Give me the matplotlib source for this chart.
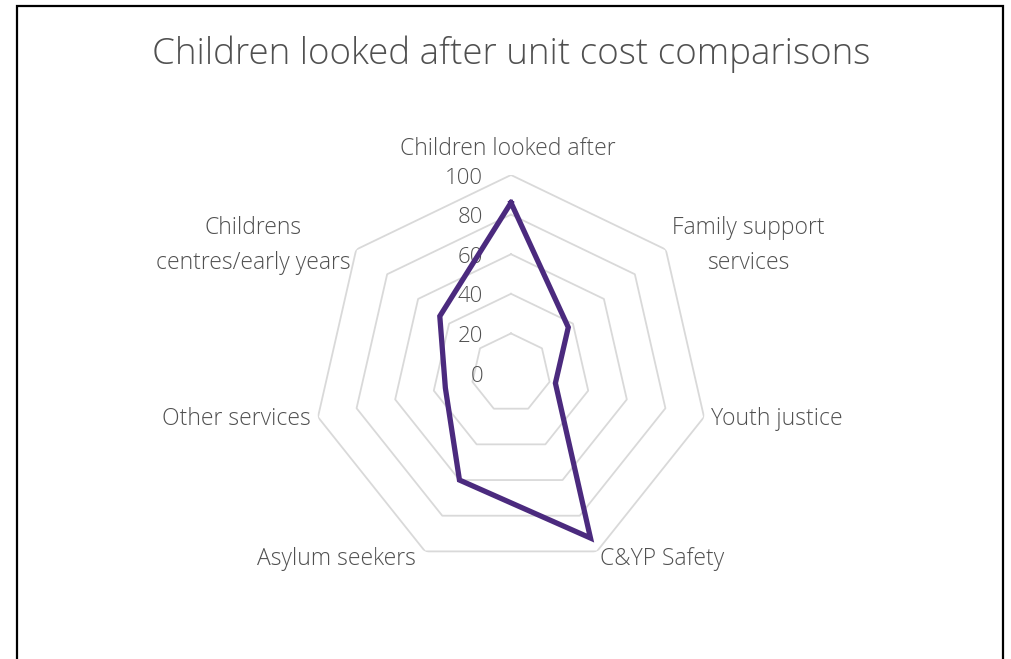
import numpy as np
import matplotlib.pyplot as plt
from matplotlib.patches import Rectangle

plt.rcParams['font.family'] = ['Open Sans', 'DejaVu Sans']
plt.rcParams['font.weight'] = 'light'

# unit cost index for each service area
categories = ['Children looked after', 'Family support\nservices', 'Youth justice',
              'C&YP Safety', 'Asylum seekers', 'Other services',
              'Childrens\ncentres/early years']
values = [86, 37, 23, 92.5, 60, 34, 46]
rings = [20, 40, 60, 80, 100]
tick_labels = ['0', '20', '40', '60', '80', '100']

text_grey = '#505050'
grid_grey = '#D9D9D9'
purple = '#4B2A7E'

W, H = 1011, 659
fig = plt.figure(figsize=(W / 100, H / 100), dpi=100)

# outer frame, runs off the bottom edge
fig.patches.append(Rectangle((17 / W, -0.05), (1003 - 17) / W, 1.05 - 6 / H,
                             transform=fig.transFigure, fill=False,
                             edgecolor='black', linewidth=1.6))

fig.text(511 / W, 1 - 54 / H, 'Children looked after unit cost comparisons',
         ha='center', va='center', fontsize=26.5, color=text_grey)

cx, cy, R = 511, 373, 198
ax = fig.add_axes([(cx - R) / W, (H - cy - R) / H, 2 * R / W, 2 * R / H],
                  projection='polar')
ax.set_theta_offset(np.pi / 2)
ax.set_theta_direction(-1)
ax.set_ylim(0, 100)
ax.grid(False)
ax.spines['polar'].set_visible(False)
ax.set_xticks([])
ax.set_yticks([])
ax.patch.set_alpha(0)

n = len(categories)
theta = np.arange(n) * 2 * np.pi / n
theta_c = np.append(theta, theta[0])

# heptagon grid
for r in rings:
    ax.plot(theta_c, [r] * (n + 1), color=grid_grey, lw=1.3, zorder=1)

vals_c = np.append(values, values[0])
ax.plot(theta_c, vals_c, color=purple, lw=3.8, solid_joinstyle='miter', zorder=3)

# radial tick labels
for v, lab in zip([0] + rings, tick_labels):
    ax.annotate(lab, xy=(0, v), xytext=(-28, -3), textcoords='offset pixels',
                ha='right', va='center', fontsize=16, color=text_grey,
                annotation_clip=False, zorder=2)

# category labels, nudged off the outer ring
offsets = [(-3, 26, 'center'), (6, 4, 'left'), (7, -2, 'left'), (3, -8, 'left'),
           (-9, -8, 'right'), (-7, -2, 'right'), (-6, 4, 'right')]
for t, lab, (dx, dy, ha) in zip(theta, categories, offsets):
    ax.annotate(lab, xy=(t, 100), xytext=(dx, dy), textcoords='offset pixels',
                ha=ha, va='center', multialignment='center', fontsize=16.5,
                color=text_grey, linespacing=1.6, annotation_clip=False)

fig.savefig('out.png', dpi=100)
